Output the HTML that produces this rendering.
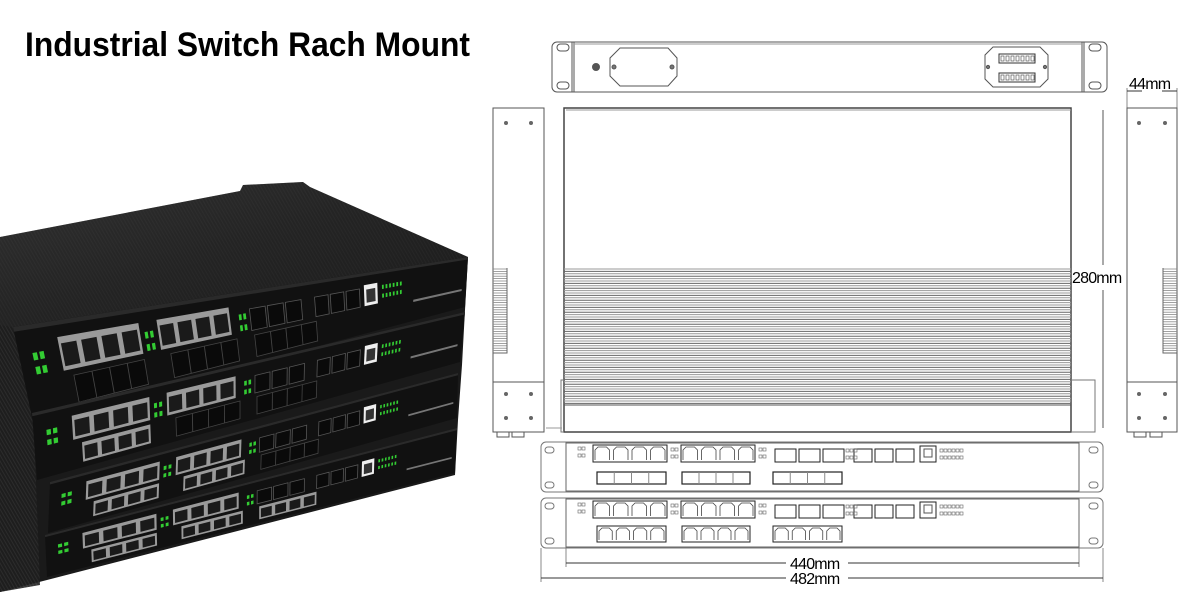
<!DOCTYPE html>
<html><head><meta charset="utf-8"><style>
html,body{margin:0;padding:0;background:#fff;}
svg{display:block;}
</style></head><body>
<svg id="s" width="1200" height="600" viewBox="0 0 1200 600" xmlns="http://www.w3.org/2000/svg">
<defs>
<linearGradient id="top" x1="0" y1="0" x2="1" y2="1">
<stop offset="0" stop-color="#3a3a3a"/><stop offset="0.5" stop-color="#262626"/><stop offset="1" stop-color="#1a1a1a"/>
</linearGradient>
<pattern id="fin" width="3" height="3" patternUnits="userSpaceOnUse" patternTransform="rotate(-30)">
<rect width="3" height="3" fill="#1e1e1e"/><rect width="1" height="3" fill="#2e2e2e"/>
</pattern>
</defs>
<rect width="1200" height="600" fill="#fff"/>
<text x="25" y="56" font-family="Liberation Sans, Arial, sans-serif" font-weight="bold" font-size="34" textLength="445" lengthAdjust="spacingAndGlyphs" fill="#000">Industrial Switch Rach Mount</text>

<g id="photo">
<polygon points="0,237 468,257 465,310 462,365 458,420 455,475 47,580 0,592" fill="#1a1a1a"/>
<polygon points="0,240 0,592 40,585 30,330" fill="url(#fin)" opacity="0.9"/>
<polygon points="0,237 240,191 243,185 303,182 310,187 468,257 13,327 0,325" fill="url(#top)"/>
<polygon points="0,237 240,191 243,185 303,182 310,187 468,257 13,327 0,325" fill="url(#fin)" opacity="0.35"/>
</g>
<g id="units"></g>

<g fill="none" stroke="#555" stroke-width="1" id="draw">
<rect x="552" y="42" width="555" height="50" rx="5" fill="#fff"/>
<line x1="574" y1="42" x2="574" y2="92"/><line x1="572" y1="42" x2="572" y2="92"/>
<line x1="1082" y1="42" x2="1082" y2="92"/><line x1="1084" y1="42" x2="1084" y2="92"/>
<rect x="557" y="44" width="12" height="7" rx="3.5"/><rect x="557" y="82" width="12" height="7" rx="3.5"/>
<rect x="1089" y="44" width="12" height="7" rx="3.5"/><rect x="1089" y="82" width="12" height="7" rx="3.5"/>
<line x1="574" y1="44" x2="1082" y2="44" stroke="#999"/>
<circle cx="596" cy="67" r="3.5" fill="#555"/>
<polygon points="620,48 668,48 677,58 677,76 668,86 620,86 610,76 610,58"/>
<circle cx="614" cy="67" r="2" fill="#777"/><circle cx="672" cy="67" r="2" fill="#777"/>
<polygon points="993,47 1040,47 1048,55 1048,79 1040,87 993,87 985,79 985,55"/>
<circle cx="988" cy="67" r="1.6" fill="#777"/><circle cx="1045" cy="67" r="1.6" fill="#777"/>
<rect x="999" y="54" width="36" height="9" stroke="#333"/>
<rect x="999" y="73" width="36" height="9" stroke="#333"/>
<line x1="1127" y1="88" x2="1127" y2="108" stroke="#888"/><line x1="1177" y1="88" x2="1177" y2="108" stroke="#888"/>
<line x1="1127" y1="91" x2="1142" y2="91" stroke="#333"/><line x1="1162" y1="91" x2="1177" y2="91" stroke="#333"/>
<rect x="493" y="108" width="51" height="324" fill="#fff"/>
<line x1="493" y1="382" x2="544" y2="382"/>
<path d="M497,432 v5 h12 v-5 M512,432 v5 h12 v-5"/>
<rect x="1127" y="108" width="50" height="324" fill="#fff"/>
<line x1="1127" y1="382" x2="1177" y2="382"/>
<path d="M1134,432 v5 h12 v-5 M1150,432 v5 h12 v-5"/>
<rect x="564" y="108" width="507" height="324" fill="#fff" stroke="#444" stroke-width="1.5"/>
<line x1="566" y1="110" x2="1071" y2="110" stroke="#999"/>
<path d="M1071,380 h24 v52 h-24" stroke="#777"/>
<path d="M564,380 h-3 v52 h3" stroke="#777"/>
<line x1="546" y1="428" x2="562" y2="428" stroke="#999"/>
<line x1="564" y1="405" x2="1071" y2="405"/>
<line x1="1103" y1="110" x2="1103" y2="265" stroke="#555"/><line x1="1103" y1="290" x2="1103" y2="428" stroke="#555"/>
<line x1="566" y1="548" x2="566" y2="567" stroke="#888"/><line x1="1079" y1="548" x2="1079" y2="567" stroke="#888"/>
<line x1="541" y1="548" x2="541" y2="582" stroke="#888"/><line x1="1103" y1="548" x2="1103" y2="582" stroke="#888"/>
<line x1="566" y1="563" x2="786" y2="563" stroke="#333"/><line x1="848" y1="563" x2="1079" y2="563" stroke="#333"/>
<line x1="541" y1="578" x2="786" y2="578" stroke="#333"/><line x1="848" y1="578" x2="1103" y2="578" stroke="#333"/>
</g>
<g font-family="Liberation Sans, Arial, sans-serif" fill="#000" font-size="16" letter-spacing="-0.8">
<text x="1129" y="89">44mm</text>
<text x="1072" y="283">280mm</text>
<text x="790" y="569">440mm</text>
<text x="790" y="584">482mm</text>
</g>
<g id="gen"></g>
</svg>
<script>
var NS="http://www.w3.org/2000/svg";
function el(p,t,a){var e=document.createElementNS(NS,t);for(var k in a)e.setAttribute(k,a[k]);p.appendChild(e);return e;}
var gen=document.getElementById('gen'),units=document.getElementById('units');
for(var y=269;y<404;y+=2.4){el(gen,'line',{x1:564,y1:y,x2:1071,y2:y,stroke:(Math.round(y*2)%3?'#999':'#666'),'stroke-width':1});}
for(var y=269;y<353;y+=2.4){el(gen,'line',{x1:493,y1:y,x2:507,y2:y,stroke:'#888','stroke-width':0.8});el(gen,'line',{x1:1163,y1:y,x2:1177,y2:y,stroke:'#888','stroke-width':0.8});}
el(gen,'path',{d:'M507,268 v85 h-14',fill:'none',stroke:'#666'});
el(gen,'path',{d:'M1163,268 v85 h14',fill:'none',stroke:'#666'});
[[506,123],[531,123],[506,394],[531,394],[506,418],[531,418],[1139,123],[1165,123],[1139,394],[1165,394],[1139,418],[1165,418]].forEach(function(p){el(gen,'circle',{cx:p[0],cy:p[1],r:2,fill:'#666'});});
for(var x=1001;x<1034;x+=5){el(gen,'rect',{x:x,y:56,width:3,height:5,fill:'none',stroke:'#444','stroke-width':0.6});el(gen,'rect',{x:x,y:75,width:3,height:5,fill:'none',stroke:'#444','stroke-width':0.6});}
function panel(y0,bottomRJ){
 el(gen,'rect',{x:541,y:y0,width:562,height:50,rx:5,fill:'#fff',stroke:'#777'});
 el(gen,'rect',{x:566,y:y0+1,width:513,height:48,fill:'none',stroke:'#666'});
 el(gen,'rect',{x:545,y:y0+5,width:9,height:6,rx:3,fill:'none',stroke:'#777'});
 el(gen,'rect',{x:545,y:y0+40,width:9,height:6,rx:3,fill:'none',stroke:'#777'});
 el(gen,'rect',{x:1089,y:y0+5,width:9,height:6,rx:3,fill:'none',stroke:'#777'});
 el(gen,'rect',{x:1089,y:y0+40,width:9,height:6,rx:3,fill:'none',stroke:'#777'});
 function rj(x,y,w,n,h){el(gen,'rect',{x:x,y:y,width:w,height:h,fill:'none',stroke:'#222','stroke-width':1});var c=w/n;for(var i=0;i<n;i++){var a=x+i*c+2,b=a+c-4;el(gen,'path',{d:'M'+a+','+(y+h-2)+' V'+(y+5)+' L'+(a+3)+','+(y+2)+' H'+(b-3)+' L'+b+','+(y+5)+' V'+(y+h-2),fill:'none',stroke:'#444','stroke-width':0.8});}}
 function sfp(x,y,w,n,h){el(gen,'rect',{x:x,y:y,width:w,height:h,fill:'none',stroke:'#222','stroke-width':1.2});for(var i=1;i<n;i++)el(gen,'line',{x1:x+i*w/n,y1:y,x2:x+i*w/n,y2:y+h,stroke:'#888'});}
 var t=y0+3;
 rj(593,t,74,4,17);rj(681,t,74,4,17);
 for(var i=0;i<3;i++){el(gen,'rect',{x:775+i*24,y:t+4,width:21,height:13,fill:'none',stroke:'#222'});el(gen,'rect',{x:854+i*21,y:t+4,width:18,height:13,fill:'none',stroke:'#222'});}
 el(gen,'rect',{x:920,y:t+1,width:16,height:16,fill:'none',stroke:'#222'});
 el(gen,'rect',{x:924,y:t+4,width:8,height:8,fill:'none',stroke:'#555'});
 [[578,t+2],[671,t+3],[759,t+3],[846,t+4],[940,t+4]].forEach(function(p,j){var n=j==4?6:(j==3?3:2);for(var k=0;k<n;k++){el(gen,'rect',{x:p[0]+k*4,y:p[1],width:3,height:3,fill:'none',stroke:'#666','stroke-width':0.6});el(gen,'rect',{x:p[0]+k*4,y:p[1]+7,width:3,height:3,fill:'none',stroke:'#666','stroke-width':0.6});}});
 var b=y0+(bottomRJ?28:30),h=bottomRJ?16:12;
 if(bottomRJ){rj(597,b,69,4,h);rj(682,b,68,4,h);rj(773,b,69,4,h);}else{sfp(597,b,69,4,h);sfp(682,b,68,4,h);sfp(773,b,69,4,h);}
}
panel(442,false);panel(498,true);
var U=[
 [[13,327],[468,257],[465,307],[33,422],[0,0,0]],
 [[32,413],[465,312],[460,362],[37,480],[1,0,0]],
 [[50,482],[458,373],[457,418],[48,533],[1,1,0]],
 [[45,535],[457,428],[455,473],[47,577],[1,1,1]]];
function bil(q,u,v){var x=(1-u)*(1-v)*q[0][0]+u*(1-v)*q[1][0]+u*v*q[2][0]+(1-u)*v*q[3][0];var y=(1-u)*(1-v)*q[0][1]+u*(1-v)*q[1][1]+u*v*q[2][1]+(1-u)*v*q[3][1];return x.toFixed(1)+','+y.toFixed(1);}
function quad(q,u0,v0,u1,v1,a){a.points=[bil(q,u0,v0),bil(q,u1,v0),bil(q,u1,v1),bil(q,u0,v1)].join(' ');return el(units,'polygon',a);}
U.forEach(function(q){
 quad(q,0,0,1,1,{fill:'#111'});
 quad(q,0,0,1,0.05,{fill:'#2a2a2a'});
 function rj(u0,u1,v0,v1){quad(q,u0,v0,u1,v1,{fill:'#9a9a9a'});var n=4,d=(u1-u0)/n;for(var i=0;i<n;i++)quad(q,u0+i*d+d*0.12,v0+(v1-v0)*0.2,u0+(i+1)*d-d*0.12,v1-(v1-v0)*0.12,{fill:'#1a1a1a'});}
 function sf(u0,u1,v0,v1){quad(q,u0,v0,u1,v1,{fill:'#0a0a0a',stroke:'#444','stroke-width':0.8});var n=4,d=(u1-u0)/n;for(var i=1;i<n;i++)quad(q,u0+i*d,v0,u0+i*d+0.002,v1,{fill:'#444'});}
 rj(0.09,0.27,0.18,0.55);rj(0.31,0.47,0.18,0.55);
 for(var i=0;i<3;i++){quad(q,0.515+i*0.04,0.25,0.55+i*0.04,0.55,{fill:'#0a0a0a',stroke:'#555','stroke-width':0.8});quad(q,0.66+i*0.035,0.25,0.69+i*0.035,0.55,{fill:'#0a0a0a',stroke:'#555','stroke-width':0.8});}
 quad(q,0.77,0.2,0.8,0.55,{fill:'#eee'});quad(q,0.775,0.28,0.795,0.5,{fill:'#333'});
 for(var k=0;k<6;k++){quad(q,0.81+k*0.008,0.25,0.814+k*0.008,0.32,{fill:'#3c3'});quad(q,0.81+k*0.008,0.4,0.814+k*0.008,0.47,{fill:'#3c3'});}
 for(var k=0;k<2;k++){quad(q,0.03+k*0.015,0.3,0.04+k*0.015,0.38,{fill:'#3c3'});quad(q,0.03+k*0.015,0.45,0.04+k*0.015,0.53,{fill:'#3c3'});quad(q,0.28+k*0.012,0.3,0.287+k*0.012,0.38,{fill:'#3c3'});quad(q,0.28+k*0.012,0.45,0.287+k*0.012,0.53,{fill:'#3c3'});quad(q,0.49+k*0.01,0.3,0.496+k*0.01,0.38,{fill:'#3c3'});quad(q,0.49+k*0.01,0.45,0.496+k*0.01,0.53,{fill:'#3c3'});}
 var f=q[4];
 (f[0]?rj:sf)(0.11,0.27,0.62,0.92);(f[1]?rj:sf)(0.33,0.48,0.62,0.92);(f[2]?rj:sf)(0.52,0.66,0.62,0.92);
 quad(q,0.88,0.62,0.99,0.66,{fill:'#bbb',opacity:0.6});
});
</script>
</body></html>
